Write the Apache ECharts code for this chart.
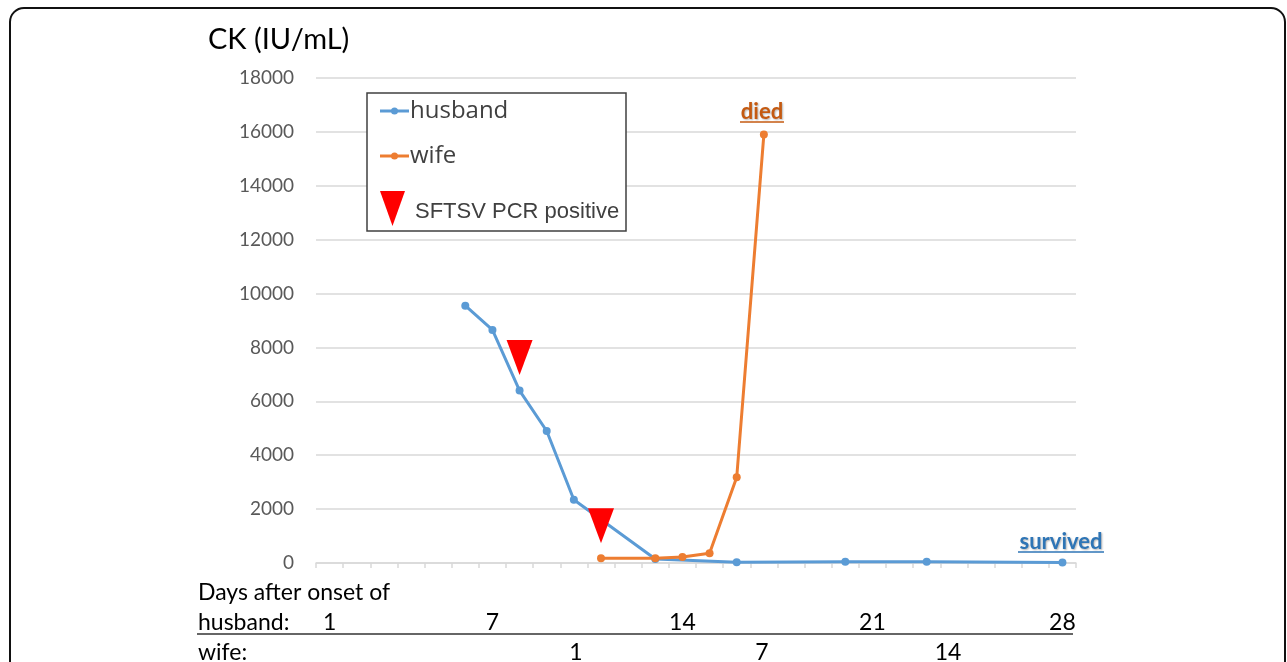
<!DOCTYPE html>
<html>
<head>
<meta charset="utf-8">
<script src="https://cdn.jsdelivr.net/npm/echarts@6/dist/echarts.min.js"></script>
<style>
html,body{margin:0;padding:0;background:#fff;}
#main{width:1287px;height:662px;}
</style>
</head>
<body>
<div id="main"></div>
<script>
// ---- data ----
var days = [];
for (var d = 1; d <= 28; d++) days.push(String(d));
var husbandTicks = ['1', '7', '14', '21', '28'];
var wifeTicks = ['1', '7', '14'];
// husband CK by day 1..28 (null = not measured)
var husbandCK = [null, null, null, null, null, 9550, 8650, 6400, 4900, 2350,
                 null, null, 150, null, null, 30, null, null, null, 50,
                 null, null, 50, null, null, null, null, 20];
// wife CK by day 1..28 of husband's timeline
var wifeCK = [null, null, null, null, null, null, null, null, null, null,
              180, null, 180, 220, 360, 3180, 15900, null, null, null,
              null, null, null, null, null, null, null, null];
// SFTSV PCR positive markers [day, CK level]
var pcrPositive = [['8', 7630], ['11', 1380]];
var yTicks = { min: 0, max: 18000, interval: 2000 };

var BLUE = '#5b9bd5', ORANGE = '#ed7d31';
var calibri = 'Lato, "Open Sans", sans-serif';
var segoe = '"Open Sans", "Noto Sans", sans-serif';

var chart = echarts.init(document.getElementById('main'));
var option = {
  backgroundColor: '#ffffff',
  animation: false,
  grid: { left: 316, right: 211, top: 78, bottom: 99, containLabel: false },
  xAxis: {
    type: 'category',
    data: days,
    boundaryGap: true,
    axisLine: { lineStyle: { color: '#d9d9d9', width: 1.5 } },
    axisTick: { show: true, interval: 0, length: 5, lineStyle: { color: '#d9d9d9', width: 1.5 } },
    axisLabel: {
      interval: function (i, v) { return husbandTicks.indexOf(v) >= 0; },
      fontSize: 23, color: '#000', fontFamily: calibri, margin: 48
    },
    splitLine: { show: false }
  },
  yAxis: {
    type: 'value',
    min: yTicks.min, max: yTicks.max, interval: yTicks.interval,
    axisLine: { show: false },
    axisTick: { show: false },
    axisLabel: { fontSize: 19, color: '#595959', fontFamily: calibri, margin: 22,
                 formatter: function (v) { return String(v); } },
    splitLine: { lineStyle: { color: '#d9d9d9', width: 1.5 } }
  },
  series: [
    {
      name: 'husband', type: 'line', data: husbandCK, connectNulls: true,
      symbol: 'circle', symbolSize: 8,
      lineStyle: { color: BLUE, width: 3 }, itemStyle: { color: BLUE }, z: 3
    },
    {
      name: 'wife', type: 'line', data: wifeCK, connectNulls: true,
      symbol: 'circle', symbolSize: 8,
      lineStyle: { color: ORANGE, width: 3 }, itemStyle: { color: ORANGE }, z: 4
    },
    {
      name: 'SFTSV PCR positive', type: 'scatter', data: pcrPositive,
      symbol: 'triangle', symbolRotate: 180, symbolSize: [26, 35],
      itemStyle: { color: '#ff0000', opacity: 1 }, z: 5
    }
  ],
  graphic: [
    // outer border
    { type: 'rect', shape: { x: 10, y: 8, width: 1275, height: 700, r: 14 },
      style: { fill: 'none', stroke: '#111', lineWidth: 2 }, z: 100 },
    // axis title
    { type: 'text', left: 208, top: 25,
      style: { text: 'CK (IU/mL)', fontSize: 29, fontFamily: calibri, fill: '#000' } },
    // legend box
    { type: 'rect', shape: { x: 367, y: 93, width: 259, height: 138 },
      style: { fill: '#fff', stroke: '#404040', lineWidth: 1.5 }, z: 50 },
    { type: 'line', shape: { x1: 380, y1: 111, x2: 409, y2: 111 }, style: { stroke: BLUE, lineWidth: 3 }, z: 51 },
    { type: 'circle', shape: { cx: 394.5, cy: 111, r: 3.5 }, style: { fill: BLUE }, z: 52 },
    { type: 'text', x: 410, y: 111, style: { text: 'husband', fontSize: 24, fontFamily: segoe, fill: '#404040', verticalAlign: 'middle' }, z: 52 },
    { type: 'line', shape: { x1: 380, y1: 156, x2: 409, y2: 156 }, style: { stroke: ORANGE, lineWidth: 3 }, z: 51 },
    { type: 'circle', shape: { cx: 394.5, cy: 156, r: 3.5 }, style: { fill: ORANGE }, z: 52 },
    { type: 'text', x: 410, y: 156, style: { text: 'wife', fontSize: 24, fontFamily: segoe, fill: '#404040', verticalAlign: 'middle' }, z: 52 },
    { type: 'polygon', shape: { points: [[380, 191], [405, 191], [392.5, 226]] }, style: { fill: '#ff0000' }, z: 52 },
    { type: 'text', x: 415, y: 212, style: { text: 'SFTSV PCR positive', fontSize: 22, fontFamily: '"Liberation Sans", Arial, sans-serif', fill: '#404040', verticalAlign: 'middle' }, z: 52 },
    // annotations
    { type: 'text', x: 762, y: 112, style: { text: 'died', fontSize: 22, fontWeight: 'bold', fontFamily: calibri, fill: '#c55a11', align: 'center', verticalAlign: 'middle', textShadowColor: 'rgba(0,0,0,0.3)', textShadowBlur: 2, textShadowOffsetX: 1, textShadowOffsetY: 1 }, z: 60 },
    { type: 'line', shape: { x1: 740, y1: 122, x2: 784, y2: 122 }, style: { stroke: '#c55a11', lineWidth: 1.5 }, z: 60 },
    { type: 'text', x: 1061, y: 542, style: { text: 'survived', fontSize: 22, fontWeight: 'bold', fontFamily: calibri, fill: '#2e75b6', align: 'center', verticalAlign: 'middle', textShadowColor: 'rgba(0,0,0,0.3)', textShadowBlur: 2, textShadowOffsetX: 1, textShadowOffsetY: 1 }, z: 60 },
    { type: 'line', shape: { x1: 1018, y1: 552, x2: 1104, y2: 552 }, style: { stroke: '#2e75b6', lineWidth: 1.5 }, z: 60 },
    // bottom rows
    { type: 'text', x: 198, y: 593, style: { text: 'Days after onset of', fontSize: 23, fontFamily: calibri, fill: '#000', verticalAlign: 'middle' } },
    { type: 'text', x: 198, y: 623, style: { text: 'husband:', fontSize: 23, fontFamily: calibri, fill: '#000', verticalAlign: 'middle' } },
    { type: 'line', shape: { x1: 197, y1: 634, x2: 1073, y2: 634 }, style: { stroke: '#333', lineWidth: 1.5 } },
    { type: 'text', x: 198, y: 653, style: { text: 'wife:', fontSize: 23, fontFamily: calibri, fill: '#000', verticalAlign: 'middle' } },
    { type: 'text', x: 576, y: 653, style: { text: wifeTicks[0], fontSize: 23, fontFamily: calibri, fill: '#000', align: 'center', verticalAlign: 'middle' } },
    { type: 'text', x: 762, y: 653, style: { text: wifeTicks[1], fontSize: 23, fontFamily: calibri, fill: '#000', align: 'center', verticalAlign: 'middle' } },
    { type: 'text', x: 948, y: 653, style: { text: wifeTicks[2], fontSize: 23, fontFamily: calibri, fill: '#000', align: 'center', verticalAlign: 'middle' } }
  ]
};
chart.setOption(option);
</script>
</body>
</html>
